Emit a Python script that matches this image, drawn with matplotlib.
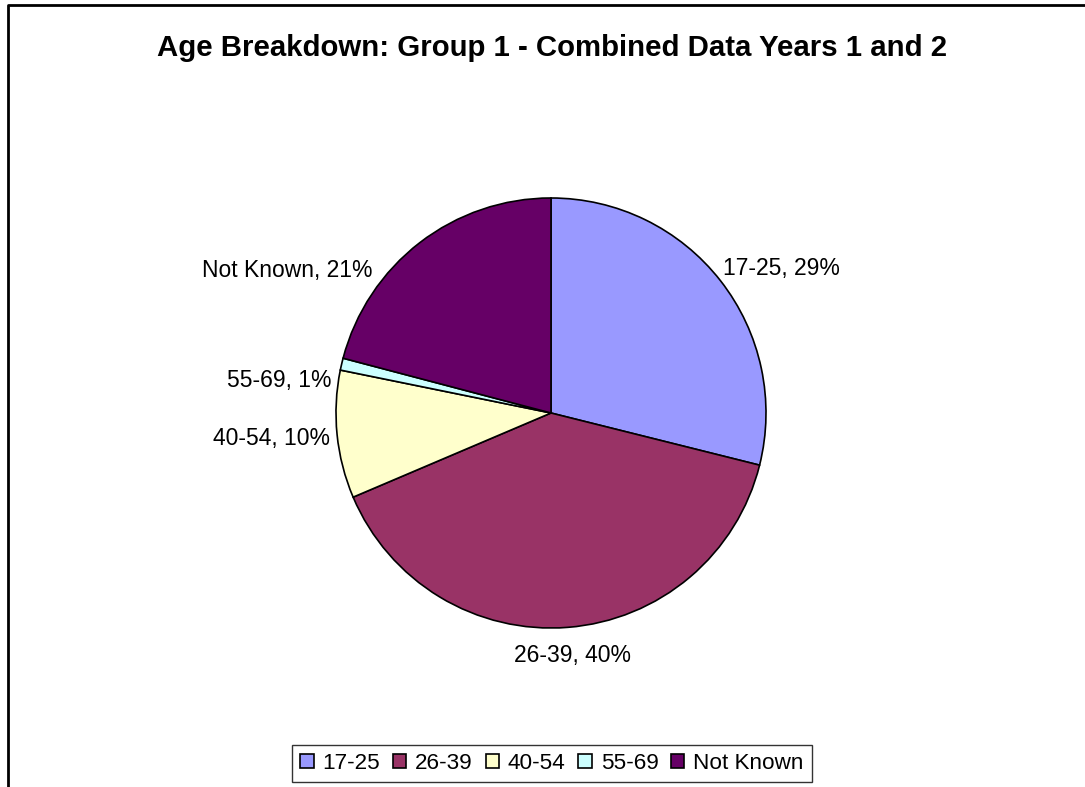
import numpy as np
import matplotlib.pyplot as plt
from matplotlib.lines import Line2D

plt.rcParams['font.family'] = ['Liberation Sans', 'DejaVu Sans']

# Age groups and their share (percent)
groups = ["17-25", "26-39", "40-54", "55-69", "Not Known"]
shares = [28.9, 39.7, 9.6, 0.9, 20.9]
colors = ["#9999FF", "#993366", "#FFFFCC", "#CCFFFF", "#660066"]

# label placement in radius units (x, y, ha) -- Excel style positions
label_pos = [(0.80, 0.67, "left"), (0.10, -1.13, "center"), (-1.03, -0.12, "right"),
             (-1.02, 0.15, "right"), (-0.83, 0.665, "right")]

W, H = 1085, 787
fig = plt.figure(figsize=(W / 100, H / 100), dpi=100)

cx, cy, r = 551, 413, 215
ax = fig.add_axes([(cx - r) / W, (H - cy - r) / H, 2 * r / W, 2 * r / H])

wedges, _ = ax.pie(shares, colors=colors, startangle=90, counterclock=False,
                   wedgeprops=dict(edgecolor="black", linewidth=1.2))
ax.set_xlim(-1, 1)
ax.set_ylim(-1, 1)
ax.set_aspect("auto")

for g, s, (lx, ly, ha) in zip(groups, shares, label_pos):
    ax.text(lx, ly, f"{g}, {round(s):.0f}%", ha=ha, va="center", fontsize=16.5, clip_on=False)

fig.text(552 / W, 1 - 48 / H, "Age Breakdown: Group 1 - Combined Data Years 1 and 2",
         ha="center", va="center", fontsize=21.2, fontweight="bold")

leg = fig.legend(wedges, groups, loc="center", bbox_to_anchor=(552 / W, 1 - 763.5 / H),
                 ncol=5, fontsize=16.2, frameon=True, fancybox=False,
                 handlelength=0.6, handleheight=0.6, handletextpad=0.4,
                 columnspacing=0.55, borderpad=0.35)
leg.get_frame().set_edgecolor("black")
leg.get_frame().set_linewidth(1.0)

# chart area border (left and top only visible)
fig.add_artist(Line2D([8 / W, 8 / W, 1.0], [0.0, 1 - 5 / H, 1 - 5 / H],
                      transform=fig.transFigure, color="black", linewidth=2))

fig.savefig("out.png", dpi=100)
